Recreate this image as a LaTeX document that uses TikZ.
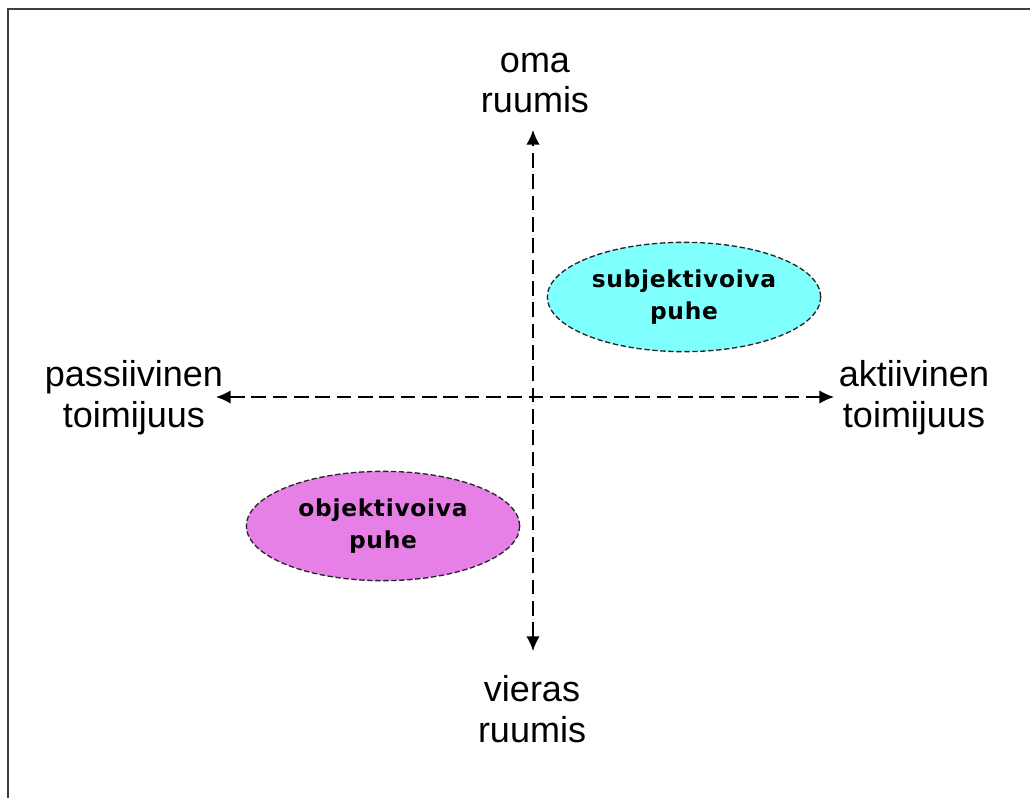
\documentclass[tikz,border=0pt]{standalone}
\usepackage{fontspec}
\setmainfont{Liberation Sans}
\newfontfamily\ellfont[LetterSpace=3]{DejaVu Sans Bold}
\usetikzlibrary{arrows.meta,shapes.geometric}
\definecolor{cyanfill}{RGB}{128,255,255}
\definecolor{orchidfill}{RGB}{230,128,230}
\definecolor{framegray}{RGB}{64,64,64}
\tikzset{
  axis/.style={line width=1.1pt, dash pattern=on 11pt off 5pt, {Latex[length=11pt,width=10pt]}-{Latex[length=11pt,width=10pt]}},
  lbl/.style={align=center, inner sep=0pt, font=\fontsize{27}{30.5}\selectfont},
  blob/.style={ellipse, draw=black!85, line width=1pt, dash pattern=on 4pt off 2pt, minimum width=205pt, minimum height=82pt, inner sep=0pt, align=center, font=\ellfont\fontsize{17.5}{24.5}\selectfont}
}
\begin{document}
\begin{tikzpicture}[x=0.75pt,y=-0.75pt]
\useasboundingbox (0,0) rectangle (1030,798);
\draw[framegray, line width=2.2pt] (8,798) -- (8,9) -- (1030,9);
\coordinate (top) at (533,130);
\coordinate (bot) at (533,651);
\coordinate (lft) at (216,397);
\coordinate (rgt) at (834,397);
\draw[axis] (bot) -- (top);
\draw[axis] (lft) -- (rgt);
\node[lbl] (oma) at (535,83) {oma\\ruumis};
\node[lbl] (vieras) at (532,709) {vieras\\ruumis};
\node[lbl] (pass) at (134,398) {passiivinen\\toimijuus};
\node[lbl] (akt) at (914,398) {aktiivinen\\toimijuus};
\node[blob, fill=cyanfill] (subj) at (684,297) {subjektivoiva\\puhe};
\node[blob, fill=orchidfill] (obj) at (383,526) {objektivoiva\\puhe};
\end{tikzpicture}
\end{document}
